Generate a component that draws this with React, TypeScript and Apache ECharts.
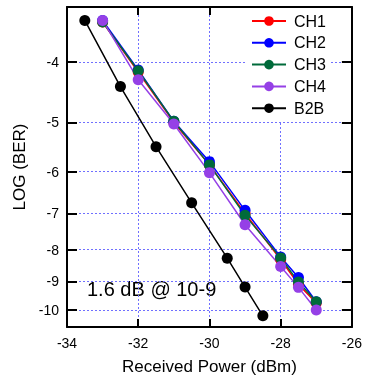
import React, { useEffect, useRef } from "react";
import * as echarts from "echarts";

const chPower = [-33, -32, -31, -30, -29, -28, -27.5, -27];
const ch1 = [-3.45, -4.15, -5.0, -5.85, -7.0, -8.3, -9.1, -9.75];
const ch2 = [-3.43, -4.12, -4.98, -5.78, -6.92, -8.22, -8.87, -9.7];
const ch3 = [-3.45, -4.13, -4.98, -5.85, -7.05, -8.25, -9.02, -9.7];
const ch4 = [-3.43, -4.27, -5.03, -6.02, -7.3, -8.52, -9.2, -10.0];
const b2bPower = [-33.5, -32.5, -31.5, -30.5, -29.5, -29, -28.5];
const b2b = [-3.43, -4.38, -5.47, -6.73, -8.26, -9.19, -10.22];
const yTicks = [-4, -5, -6, -7, -8, -9, -10];
const seriesNames = ["CH1", "CH2", "CH3", "CH4", "B2B"];
const seriesColors = ["#ff0000", "#0000ff", "#006a3a", "#9540e6", "#000000"];

// BER plot scale: position ~ -log10(-log10(BER))
const tf = (logBer: number) => -Math.log10(-logBer);
const FONT = "'Liberation Sans', Arial, sans-serif";

export default function App() {
  const ref = useRef<HTMLDivElement>(null);
  useEffect(() => {
    if (!ref.current) return;
    const chart = echarts.init(ref.current, null, { renderer: "svg" });
    const yCustom = yTicks.map(tf);
    const yMin = -1.0274;
    const yMax = -0.5137;
    const axisLine = { show: true, lineStyle: { color: "#000", width: 2 } };
    const mk = (xs: number[], ys: number[]) => xs.map((x, i) => [x, tf(ys[i])]);
    const datas = [mk(chPower, ch1), mk(chPower, ch2), mk(chPower, ch3), mk(chPower, ch4), mk(b2bPower, b2b)];
    chart.setOption({
      animation: false,
      grid: { left: 67, right: 13, top: 7, bottom: 54 },
      legend: {
        data: seriesNames,
        left: 247,
        top: 8,
        orient: "vertical",
        itemWidth: 34,
        itemHeight: 12,
        itemGap: 5.8,
        padding: [5, 4, 5, 4],
        backgroundColor: "#fff",
        textStyle: { fontFamily: FONT, fontSize: 16, color: "#000", padding: [0, 0, 0, 3] },
      },
      xAxis: [
        {
          type: "value",
          min: -34,
          max: -26,
          interval: 2,
          name: "Received Power (dBm)",
          nameLocation: "middle",
          nameGap: 31,
          nameTextStyle: { fontFamily: FONT, fontSize: 17, color: "#000" },
          axisLine,
          axisTick: { show: true, inside: true, length: 8, lineStyle: { color: "#000", width: 2 } },
          axisLabel: { fontFamily: FONT, fontSize: 14, color: "#000", margin: 9, showMaxLabel: true, showMinLabel: true },
          splitLine: { show: true, lineStyle: { color: "#7070ff", type: [2, 2], width: 1 } },
        },
        {
          type: "value",
          position: "top",
          min: -34,
          max: -26,
          interval: 2,
          axisLine,
          axisTick: { show: true, inside: true, length: 8, lineStyle: { color: "#000", width: 2 } },
          axisLabel: { show: false },
          splitLine: { show: false },
        },
      ],
      yAxis: [
        {
          type: "value",
          min: yMin,
          max: yMax,
          name: "LOG (BER)",
          nameLocation: "middle",
          nameGap: 33,
          nameRotate: 90,
          nameTextStyle: { fontFamily: FONT, fontSize: 17, color: "#000" },
          axisLine,
          axisTick: { show: true, inside: true, length: 10, customValues: yCustom, lineStyle: { color: "#000", width: 2 } },
          axisLabel: {
            fontFamily: FONT,
            fontSize: 14,
            color: "#000",
            margin: 8,
            customValues: yCustom,
            formatter: (v: number) => String(-Math.round(Math.pow(10, -v))),
          },
          splitLine: { show: true, lineStyle: { color: "#7070ff", type: [2, 2], width: 1 } },
        },
        {
          type: "value",
          position: "right",
          min: yMin,
          max: yMax,
          axisLine,
          axisTick: { show: true, inside: true, length: 10, customValues: yCustom, lineStyle: { color: "#000", width: 2 } },
          axisLabel: { show: false },
          splitLine: { show: false },
        },
      ],
      graphic: [
        {
          type: "text",
          left: 87,
          top: 279,
          style: { text: "1.6 dB @ 10-9", fontFamily: FONT, fontSize: 20, fill: "#000" },
        },
      ],
      series: seriesNames.map((name, i) => ({
        name,
        type: "line",
        data: datas[i],
        symbol: "circle",
        symbolSize: 11,
        color: seriesColors[i],
        lineStyle: { width: 1.5, color: seriesColors[i] },
        itemStyle: { color: seriesColors[i] },
      })),
    });
    return () => chart.dispose();
  }, []);
  return <div ref={ref} style={{ position: "fixed", left: 0, top: 0, width: 365, height: 381 }} />;
}
